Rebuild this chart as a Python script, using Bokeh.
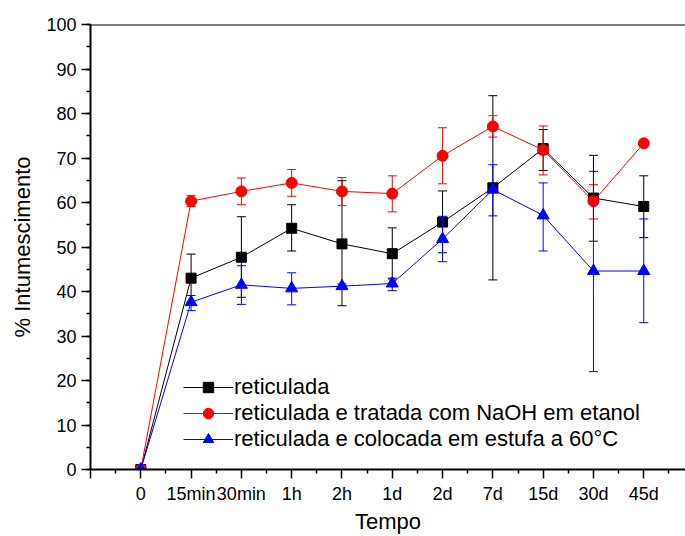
from bokeh.plotting import figure
from bokeh.models import Range1d, FixedTicker, SingleIntervalTicker, Legend, LegendItem, Span
from bokeh.embed import file_html
from bokeh.resources import INLINE

# categories (x positions are their indices)
tempo = ["0", "15min", "30min", "1h", "2h", "1d", "2d", "7d", "15d", "30d", "45d"]

# reticulada
ret_y = [0, 43.0, 47.7, 54.2, 50.7, 48.5, 55.6, 63.3, 72.1, 61.0, 59.1]
ret_hi = [0, 48.4, 56.8, 59.5, 64.9, 54.3, 62.6, 84.0, 76.4, 70.6, 66.0]
ret_lo = [0, 37.6, 38.7, 49.1, 36.8, 43.0, 48.7, 42.6, 67.2, 51.3, 52.1]

# reticulada e tratada com NaOH em etanol
naoh_y = [0, 60.3, 62.5, 64.4, 62.5, 62.0, 70.5, 77.1, 71.8, 60.3, 73.3]
naoh_hi = [0, 61.6, 65.5, 67.4, 65.6, 66.0, 76.8, 79.5, 77.2, 64.0, 73.3]
naoh_lo = [0, 59.1, 59.5, 61.4, 59.3, 57.9, 64.2, 74.7, 66.2, 56.3, 73.3]

# reticulada e colocada em estufa a 60°C
est_y = [0, 37.6, 41.5, 40.7, 41.2, 41.8, 51.8, 62.9, 57.1, 44.6, 44.6]
est_hi = [0, 39.1, 45.8, 44.2, 41.7, 42.8, 56.9, 68.5, 64.4, 67.0, 56.3]
est_lo = [0, 35.7, 37.1, 37.0, 40.7, 40.2, 46.7, 57.0, 49.1, 22.0, 33.0]

labels = ["reticulada",
          "reticulada e tratada com NaOH em etanol",
          "reticulada e colocada em estufa a 60°C"]

FONT = "Liberation Sans"
x = list(range(len(tempo)))

p = figure(width=685, height=536, output_backend="svg", toolbar_location=None,
           x_range=Range1d(-1, 10.83), y_range=Range1d(0, 100),
           min_border_left=90, min_border_right=0, min_border_top=24, min_border_bottom=67)
p.outline_line_color = None
p.xgrid.visible = False
p.ygrid.visible = False
p.background_fill_color = "white"
p.border_fill_color = "white"

series = [
    (ret_y, ret_hi, ret_lo, "#000000", "square", 10),
    (naoh_y, naoh_hi, naoh_lo, "#ff0000", "circle", 11),
    (est_y, est_hi, est_lo, "#0000ff", "triangle", 12),
]

items = []
for (ys, hi, lo, col, mk, sz), lab in zip(series, labels):
    p.segment(x, lo, x, hi, line_color=col, line_width=1)
    p.scatter(x, hi, marker="dash", size=9, line_color=col, line_width=1)
    p.scatter(x, lo, marker="dash", size=9, line_color=col, line_width=1)
    lr = p.line(x, ys, line_color=col, line_width=1)
    sr = p.scatter(x, ys, marker=mk, size=sz, fill_color=col, line_color=col)
    items.append(LegendItem(label=lab, renderers=[lr, sr]))

legend = Legend(items=items, location=(93, 17))
legend.background_fill_alpha = 0
legend.border_line_color = None
legend.padding = 0
legend.margin = 0
legend.spacing = 0
legend.glyph_width = 50
legend.glyph_height = 26
legend.label_height = 26
legend.label_standoff = 1
legend.label_text_font = FONT
legend.label_text_font_size = "22px"
legend.label_text_color = "black"
p.add_layout(legend, "center")

# top frame line
p.add_layout(Span(location=100, dimension="width", line_color="black", line_width=2))

xa = p.xaxis[0]
xa.ticker = FixedTicker(ticks=list(range(-1, 12)),
                        minor_ticks=[i + 0.5 for i in range(-1, 11)])
overrides = {-1: "", 11: ""}
for i, t in enumerate(tempo):
    overrides[i] = t
xa.major_label_overrides = overrides
xa.axis_label = "Tempo"

ya = p.yaxis[0]
ya.ticker = SingleIntervalTicker(interval=10, num_minor_ticks=2)
ya.axis_label = "% Intumescimento"

for ax in (xa, ya):
    ax.axis_line_width = 2
    ax.axis_line_color = "black"
    ax.major_tick_in = 0
    ax.major_tick_out = 9
    ax.minor_tick_in = 0
    ax.minor_tick_out = 4
    ax.major_tick_line_width = 1.5
    ax.minor_tick_line_width = 1.5
    ax.major_tick_line_color = "black"
    ax.minor_tick_line_color = "black"
    ax.major_label_text_font = FONT
    ax.major_label_text_font_size = "18px"
    ax.major_label_text_color = "black"
    ax.major_label_standoff = 5
    ax.axis_label_text_font = FONT
    ax.axis_label_text_font_size = "22px"
    ax.axis_label_text_font_style = "normal"
    ax.axis_label_text_color = "black"

ya.axis_label_standoff = 8
xa.axis_label_standoff = 2

open("out.html", "w").write(file_html(p, INLINE))
